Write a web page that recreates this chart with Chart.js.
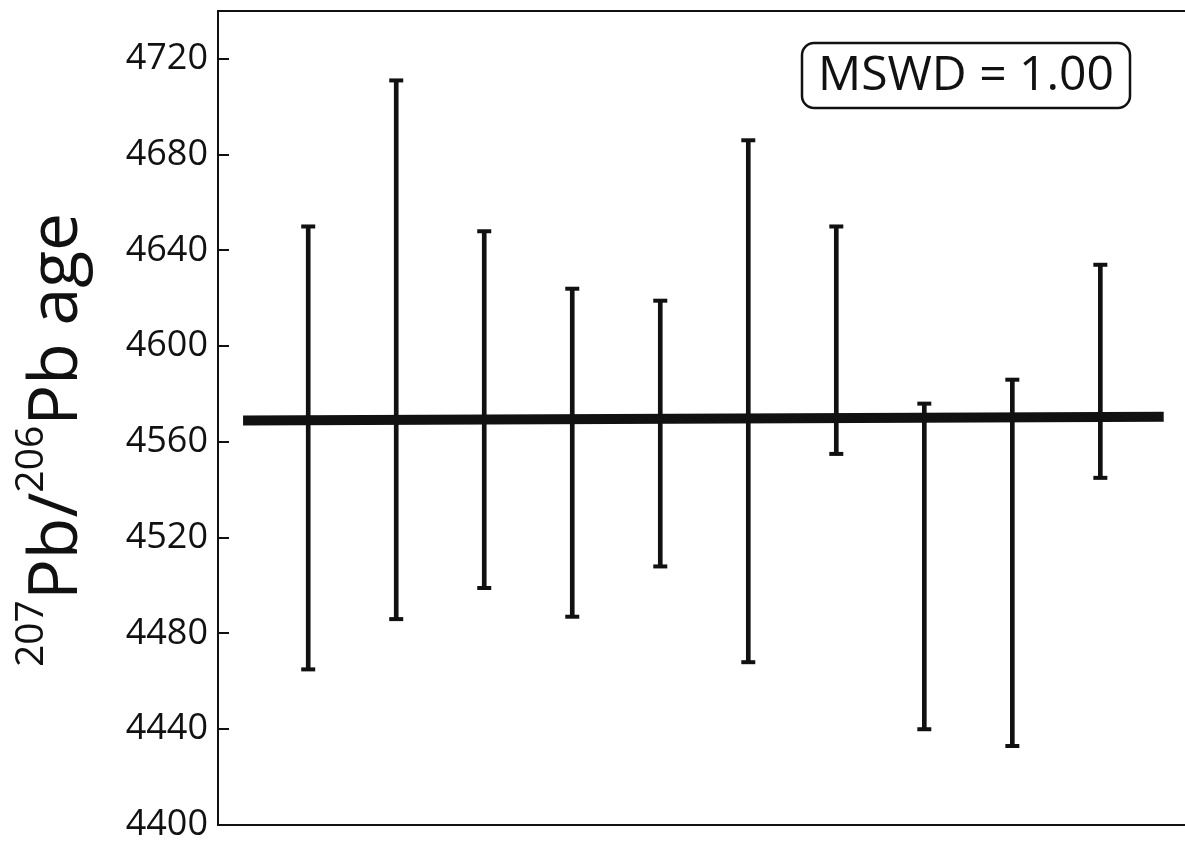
<!DOCTYPE html>
<html>
<head>
<meta charset="utf-8">
<script src="https://cdn.jsdelivr.net/npm/chart.js@4.4.1/dist/chart.umd.min.js"></script>
<style>
  html, body { margin: 0; padding: 0; background: #fff; overflow: hidden; }
  #wrap { width: 1193px; height: 846px; }
</style>
</head>
<body>
<div id="wrap"><canvas id="ageChart"></canvas></div>
<script>
// spot number along the x axis
var spots = [1, 2, 3, 4, 5, 6, 7, 8, 9, 10];
// 207Pb/206Pb age range of each spot (Ma)
var ageLow = [4465, 4486, 4499, 4487, 4508, 4468, 4555, 4440, 4433, 4545];
var ageHigh = [4650, 4711, 4648, 4624, 4619, 4686, 4650, 4576, 4586, 4634];
// weighted mean, drawn as a thick line across the spots
var meanX = [0.26, 10.72];
var meanAge = [4569, 4570.5];
var yTicks = [4400, 4440, 4480, 4520, 4560, 4600, 4640, 4680, 4720];
var mswd = "1.00";

var ink = "#111";
Chart.defaults.font.family = "'Open Sans', sans-serif";
Chart.defaults.color = ink;

// frame, inner tick marks, axis title and MSWD box
var decorations = {
  id: "decorations",
  afterDraw: function (chart) {
    var ctx = chart.ctx;
    var a = chart.chartArea;
    var yScale = chart.scales.y;

    ctx.save();
    ctx.strokeStyle = ink;
    ctx.fillStyle = ink;
    ctx.lineWidth = 2;
    ctx.strokeRect(a.left, a.top, a.right - a.left, a.bottom - a.top);

    yTicks.forEach(function (v) {
      var py = Math.round(yScale.getPixelForValue(v));
      ctx.beginPath();
      ctx.moveTo(a.left, py);
      ctx.lineTo(a.left + 11, py);
      ctx.stroke();
    });

    // rotated title with superscript mass numbers
    ctx.save();
    ctx.translate(77, 667);
    ctx.rotate(-Math.PI / 2);
    ctx.textAlign = "left";
    ctx.textBaseline = "alphabetic";
    var parts = [["207", true], ["Pb/", false], ["206", true], ["Pb age", false]];
    var x = 0;
    parts.forEach(function (p) {
      ctx.font = p[1] ? "39px 'Open Sans'" : "68px 'Open Sans'";
      ctx.fillText(p[0], x, p[1] ? -34 : 0);
      x += ctx.measureText(p[0]).width;
    });
    ctx.restore();

    // MSWD label
    ctx.lineWidth = 2.5;
    ctx.beginPath();
    ctx.roundRect(a.right - 389, a.top + 32, 328, 65, 12);
    ctx.stroke();
    ctx.font = "48px 'Open Sans'";
    ctx.textAlign = "center";
    ctx.textBaseline = "alphabetic";
    ctx.fillText("MSWD = " + mswd, a.right - 225, a.top + 79);
    ctx.restore();
  }
};

var ctx = document.getElementById("ageChart").getContext("2d");
var chart = new Chart(ctx, {
  type: "bar",
  data: {
    datasets: [
      {
        type: "bar",
        data: spots.map(function (s, i) {
          return { x: s, y: [ageLow[i], ageHigh[i]] };
        }),
        backgroundColor: ink,
        borderWidth: 0,
        barThickness: 4
      },
      {
        type: "scatter",
        data: spots.map(function (s, i) {
          return { x: s, y: ageLow[i] };
        }).concat(spots.map(function (s, i) {
          return { x: s, y: ageHigh[i] };
        })),
        pointStyle: "line",
        pointRadius: 7,
        borderWidth: 4,
        borderColor: ink
      },
      {
        type: "line",
        data: meanX.map(function (mx, i) {
          return { x: mx, y: meanAge[i] };
        }),
        borderColor: ink,
        borderWidth: 10,
        borderCapStyle: "butt",
        pointRadius: 0
      }
    ]
  },
  options: {
    responsive: true,
    maintainAspectRatio: false,
    animation: false,
    layout: {
      autoPadding: false,
      padding: { top: 11, right: 2, bottom: 21, left: 0 }
    },
    plugins: {
      legend: { display: false },
      tooltip: { enabled: false }
    },
    scales: {
      x: {
        type: "linear",
        min: -0.025,
        max: 11.03,
        offset: false,
        display: false
      },
      y: {
        min: 4400,
        max: 4740,
        afterFit: function (scale) {
          // fixed axis width; label overhang is covered by the layout padding
          scale.width = 218;
          scale.paddingTop = 0;
          scale.paddingBottom = 0;
        },
        afterBuildTicks: function (scale) {
          scale.ticks = yTicks.map(function (v) {
            return { value: v };
          });
        },
        grid: { display: false, drawTicks: false },
        border: { display: false },
        ticks: {
          padding: 10,
          color: ink,
          font: { size: 36, lineHeight: 1 },
          callback: function (value) {
            return String(value);
          }
        }
      }
    }
  },
  plugins: [decorations]
});
</script>
</body>
</html>
